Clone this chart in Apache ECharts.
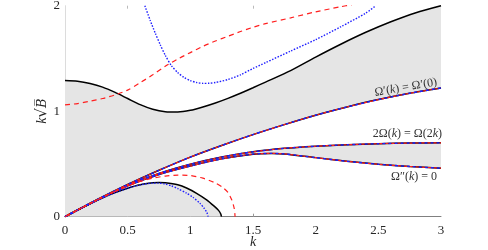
<!DOCTYPE html>
<html><head><meta charset="utf-8">
<script src="https://cdn.jsdelivr.net/npm/echarts@6/dist/echarts.min.js"></script>
<style>html,body{margin:0;padding:0;background:#fff}#c{width:488px;height:250px}</style>
</head><body><div id="c"></div>
<script>
// ---- data (k, k*sqrt(B)) ----
const xTicks = [0, 0.5, 1, 1.5, 2, 2.5, 3];
const yTicks = [0, 1, 2];
const topBlack = [[0,1.29],[0.1,1.283],[0.2,1.262],[0.3,1.228],[0.4,1.178],[0.5,1.12],[0.6,1.062],[0.7,1.018],[0.8,0.995],[0.9,0.992],[1.0,1.008],[1.1,1.04],[1.2,1.078],[1.3,1.122],[1.4,1.17],[1.5,1.222],[1.6,1.276],[1.8,1.385],[2.0,1.513],[2.2,1.635],[2.4,1.748],[2.6,1.848],[2.8,1.934],[3.0,2.0]];
const redUpper = [[0,1.06],[0.1,1.072],[0.2,1.095],[0.3,1.12],[0.4,1.155],[0.5,1.2],[0.6,1.27],[0.7,1.345],[0.8,1.425],[0.9,1.495],[1.0,1.555],[1.1,1.615],[1.2,1.665],[1.3,1.71],[1.4,1.755],[1.5,1.795],[1.6,1.83],[1.8,1.885],[2.0,1.942],[2.2,1.99],[2.29,2.01]];
const blueUpper = [[0.637,2.0],[0.68,1.86],[0.72,1.74],[0.76,1.63],[0.8,1.53],[0.85,1.43],[0.9,1.365],[0.95,1.32],[1.0,1.29],[1.05,1.272],[1.1,1.264],[1.15,1.265],[1.2,1.272],[1.3,1.3],[1.4,1.345],[1.5,1.405],[1.6,1.46],[1.8,1.57],[2.0,1.678],[2.2,1.8],[2.4,1.93],[2.48,2.0]];
const omegaPrime = [[0,0],[0.25,0.158],[0.5,0.305],[0.75,0.44],[1.0,0.565],[1.25,0.675],[1.5,0.778],[1.75,0.873],[2.0,0.962],[2.25,1.04],[2.5,1.11],[2.75,1.17],[3.0,1.22]];
const twoOmega = [[0,0],[0.25,0.155],[0.5,0.297],[0.75,0.41],[1.0,0.497],[1.25,0.565],[1.5,0.615],[1.75,0.648],[2.0,0.668],[2.25,0.682],[2.5,0.692],[2.75,0.698],[3.0,0.70]];
const omegaPP = [[0,0],[0.25,0.154],[0.5,0.292],[0.75,0.4],[1.0,0.48],[1.25,0.548],[1.5,0.593],[1.65,0.6],[1.75,0.595],[2.0,0.56],[2.25,0.525],[2.5,0.497],[2.75,0.476],[3.0,0.46]];
const lobeBlack = [[0,0],[0.1,0.062],[0.2,0.122],[0.3,0.178],[0.4,0.228],[0.5,0.27],[0.6,0.303],[0.7,0.321],[0.75,0.325],[0.8,0.322],[0.9,0.302],[0.97,0.272],[1.05,0.222],[1.13,0.16],[1.19,0.1],[1.225,0.06],[1.243,0.025],[1.248,0]];
const lobeBlue = [[0,0],[0.1,0.062],[0.2,0.122],[0.3,0.178],[0.4,0.228],[0.5,0.27],[0.6,0.302],[0.7,0.318],[0.75,0.318],[0.8,0.31],[0.85,0.292],[0.9,0.267],[0.97,0.223],[1.02,0.185],[1.076,0.127],[1.11,0.08],[1.132,0.04],[1.142,0]];
const lobeRed = [[0,0],[0.1,0.063],[0.2,0.125],[0.3,0.185],[0.4,0.24],[0.5,0.29],[0.6,0.335],[0.7,0.365],[0.8,0.385],[0.9,0.394],[1.0,0.39],[1.1,0.365],[1.2,0.32],[1.26,0.275],[1.3,0.23],[1.33,0.16],[1.35,0.08],[1.357,0]];
const lobeBase = [[0,0],[1.248,0]];
const bottomTicks = [0.5, 1, 1.5];
const topTicks = [0.5, 1.5];

const SERIF = "'Liberation Serif','DejaVu Serif',serif";
const GRAY = '#e5e5e5';

function fill(upper, lower) {
  return {
    type: 'custom', silent: true, z: 1, clip: true,
    data: [[0, 0]],
    renderItem: function (params, api) {
      const pts = upper.map(p => api.coord(p)).concat(lower.slice().reverse().map(p => api.coord(p)));
      return { type: 'polygon', shape: { points: pts }, style: { fill: GRAY } };
    }
  };
}
function line(data, color, width, dash, z, offset) {
  return {
    type: 'line', data: data, showSymbol: false, smooth: 0.25, silent: true, z: z,
    lineStyle: { color: color, width: width, type: dash || 'solid', dashOffset: offset || 0 }
  };
}
function triple(data) {
  return [
    line(data, '#000', 1.5, 'solid', 3),
    line(data, '#1f1fff', 1.4, [3, 3], 4, 0),
    line(data, '#ff1f1f', 1.2, [3, 3], 5, 3)
  ];
}

const chart = echarts.init(document.getElementById('c'), null, { renderer: 'canvas' });
const option = {
  animation: false,
  grid: { left: 65, right: 47, top: 5.7, bottom: 33.3, containLabel: false, outerBoundsMode: 'none' },
  xAxis: [{
    type: 'value', min: 0, max: 3, interval: 0.5,
    name: 'k', nameLocation: 'middle', nameGap: 19, nameMoveOverlap: false,
    nameTextStyle: { fontFamily: SERIF, fontStyle: 'italic', fontSize: 14, color: '#262626' },
    axisLine: { lineStyle: { color: '#808080', width: 1 } },
    axisTick: { inside: true, length: 3, lineStyle: { color: '#999' }, customValues: bottomTicks },
    axisLabel: { fontFamily: SERIF, fontSize: 13, color: '#262626', margin: 7, customValues: xTicks },
    splitLine: { show: false }
  }, {
    type: 'value', min: 0, max: 3, interval: 0.5, position: 'top',
    axisLine: { show: false },
    axisTick: { inside: true, length: 3, lineStyle: { color: '#bbb' }, customValues: topTicks },
    axisLabel: { show: false },
    splitLine: { show: false }
  }],
  yAxis: {
    type: 'value', min: 0, max: 2, interval: 1,
    name: '{i|k}{r|√}{b|B\u0305}', nameLocation: 'middle', nameGap: 15, nameRotate: 90,
    nameMoveOverlap: false,
    nameTextStyle: { fontFamily: SERIF, fontSize: 14, color: '#262626',
      rich: { i: { fontFamily: SERIF, fontStyle: 'italic', fontSize: 14, color: '#262626' },
              r: { fontFamily: 'DejaVu Serif', fontSize: 15, color: '#262626' },
              b: { fontFamily: 'DejaVu Serif', fontStyle: 'italic', fontSize: 13, color: '#262626' } } },
    axisLine: { show: true, lineStyle: { color: '#dcdcdc', width: 1 } },
    axisTick: { show: false },
    axisLabel: { fontFamily: SERIF, fontSize: 13, color: '#262626', margin: 5, customValues: yTicks },
    splitLine: { show: false }
  },
  series: [
    fill(topBlack, omegaPrime),
    fill(twoOmega, omegaPP),
    fill(lobeBlack, lobeBase),
    line(topBlack, '#000', 1.5, 'solid', 3),
    line(redUpper, '#ff1f1f', 1.2, [5, 4], 5),
    line(blueUpper, '#1f1fff', 1.4, [1.5, 1.5], 4),
    ...triple(omegaPrime),
    ...triple(twoOmega),
    ...triple(omegaPP),
    line(lobeBlack, '#000', 1.5, 'solid', 3),
    line(lobeBlue, '#1f1fff', 1.4, [1.5, 1.5], 4),
    line(lobeRed, '#ff1f1f', 1.2, [5, 4], 5)
  ]
};
chart.setOption(option);

const lbl = { i: { fontFamily: SERIF, fontStyle: 'italic', fontSize: 12, fill: '#333' },
              n: { fontFamily: SERIF, fontSize: 12, fill: '#333' } };
chart.setOption({
  graphic: [
    { type: 'text', x: 438, y: 88, rotation: 0.17, z: 10,
      style: { text: '{n|Ω′(}{i|k}{n|) = Ω′(0)}', rich: lbl, align: 'right', verticalAlign: 'bottom' } },
    { type: 'text', x: 442, y: 134, z: 10,
      style: { text: '{n|2Ω(}{i|k}{n|) = Ω(2}{i|k}{n|)}', rich: lbl, align: 'right', verticalAlign: 'middle' } },
    { type: 'text', x: 437, y: 177, z: 10,
      style: { text: '{n|Ω″(}{i|k}{n|) = 0}', rich: lbl, align: 'right', verticalAlign: 'middle' } }
  ]
});
</script></body></html>
